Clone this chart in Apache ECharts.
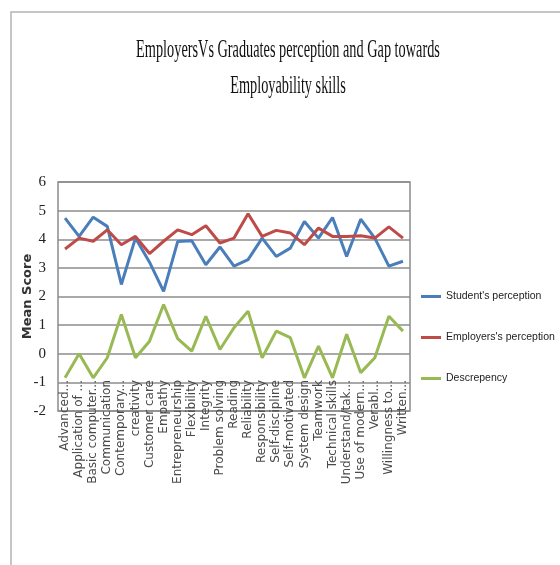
<!DOCTYPE html>
<html>
<head>
<meta charset="UTF-8"/>
<title>Employability skills</title>
<script src="https://cdn.jsdelivr.net/npm/echarts@6/dist/echarts.min.js" type="text/javascript"></script>
<style>
	html, body { margin: 0; padding: 0; background: #fff; }
	#chart { width: 560px; height: 565px; }
</style>
</head>
<body>
<div id="chart"></div>
<script type="text/javascript">
	var skills = ['Advanced...', 'Application of ...', 'Basic computer...', 'Communication', 'Contemporary...',
		'creativity', 'Customer care', 'Empathy', 'Entrepreneurship', 'Flexibility', 'Integrity',
		'Problem solving', 'Reading', 'Reliability', 'Responsibility', 'Self-discipline', 'Self-motivated',
		'System design', 'Teamwork', 'Technical skills', 'Understand/tak...', 'Use of modern...',
		'Verabl...', 'Willingness to...', 'Written...'];
	var studentScore = [4.74, 4.1, 4.77, 4.45, 2.42, 4.04, 3.2, 2.18, 3.92, 3.95, 3.11, 3.73, 3.06, 3.29,
		4.04, 3.4, 3.69, 4.62, 4.04, 4.76, 3.4, 4.7, 4.04, 3.06, 3.23];
	var employerScore = [3.66, 4.04, 3.93, 4.33, 3.81, 4.1, 3.5, 3.93, 4.33, 4.16, 4.47, 3.87, 4.04, 4.89,
		4.1, 4.31, 4.22, 3.81, 4.39, 4.1, 4.1, 4.12, 4.04, 4.43, 4.04];
	var gapScore = [-0.84, 0, -0.84, -0.14, 1.37, -0.14, 0.44, 1.72, 0.53, 0.09, 1.31, 0.15, 0.91, 1.49,
		-0.14, 0.79, 0.56, -0.84, 0.27, -0.84, 0.68, -0.66, -0.14, 1.31, 0.79];
	var yTicks = { min: -2, max: 6, step: 1 };

	var chart = echarts.init(document.getElementById('chart'));
	var option = {
		animation: false,
		graphic: [
			{ type: 'rect', z: 0, shape: { x: 11, y: 12, width: 600, height: 600 },
			  style: { fill: 'none', stroke: '#b4b4b4', lineWidth: 1.5 } },
			{ type: 'text', x: 288, y: 50, scaleX: 0.55,
			  style: { text: 'EmployersVs Graduates perception and Gap towards', fontFamily: 'Liberation Serif',
			           fontSize: 26, fill: '#111', align: 'center', verticalAlign: 'middle',
			           textAlign: 'center', textVerticalAlign: 'middle' } },
			{ type: 'text', x: 288, y: 86, scaleX: 0.55,
			  style: { text: 'Employability skills', fontFamily: 'Liberation Serif',
			           fontSize: 26, fill: '#111', align: 'center', verticalAlign: 'middle',
			           textAlign: 'center', textVerticalAlign: 'middle' } }
		],
		legend: {
			orient: 'vertical',
			left: 416,
			top: 286,
			icon: 'rect',
			itemWidth: 20,
			itemHeight: 3,
			itemGap: 30,
			textStyle: { fontFamily: 'Liberation Sans', fontSize: 10.5, color: '#222' },
			data: ["Student's perception", "Employers's perception", 'Descrepency']
		},
		grid: {
			left: 58, right: 150, top: 182, bottom: 154,
			show: true, borderColor: '#8c8c8c', borderWidth: 1.5
		},
		xAxis: {
			type: 'category',
			data: skills,
			boundaryGap: true,
			axisLine: { show: false },
			axisTick: { show: false },
			axisLabel: {
				interval: 0, rotate: 90, margin: -31,
				fontFamily: 'DejaVu Sans', fontSize: 12, color: '#4a4a4a'
			}
		},
		yAxis: {
			type: 'value',
			min: yTicks.min, max: yTicks.max, interval: yTicks.step,
			name: 'Mean Score',
			nameLocation: 'middle',
			nameGap: 24,
			nameMoveOverlap: false,
			nameTextStyle: { fontFamily: 'DejaVu Sans', fontSize: 13, fontWeight: 'bold', color: '#333' },
			axisLine: { show: false },
			axisTick: { show: false },
			axisLabel: { margin: 12, fontFamily: 'Liberation Serif', fontSize: 15, color: '#222' },
			splitLine: { lineStyle: { color: '#8c8c8c', width: 1.5 } }
		},
		series: [
			{ name: "Student's perception", type: 'line', data: studentScore, symbol: 'none',
			  itemStyle: { color: '#4a7ebb' }, lineStyle: { width: 3, color: '#4a7ebb' } },
			{ name: "Employers's perception", type: 'line', data: employerScore, symbol: 'none',
			  itemStyle: { color: '#be4b48' }, lineStyle: { width: 3, color: '#be4b48' } },
			{ name: 'Descrepency', type: 'line', data: gapScore, symbol: 'none',
			  itemStyle: { color: '#98b954' }, lineStyle: { width: 3, color: '#98b954' } }
		]
	};
	chart.setOption(option);
</script>
</body>
</html>
